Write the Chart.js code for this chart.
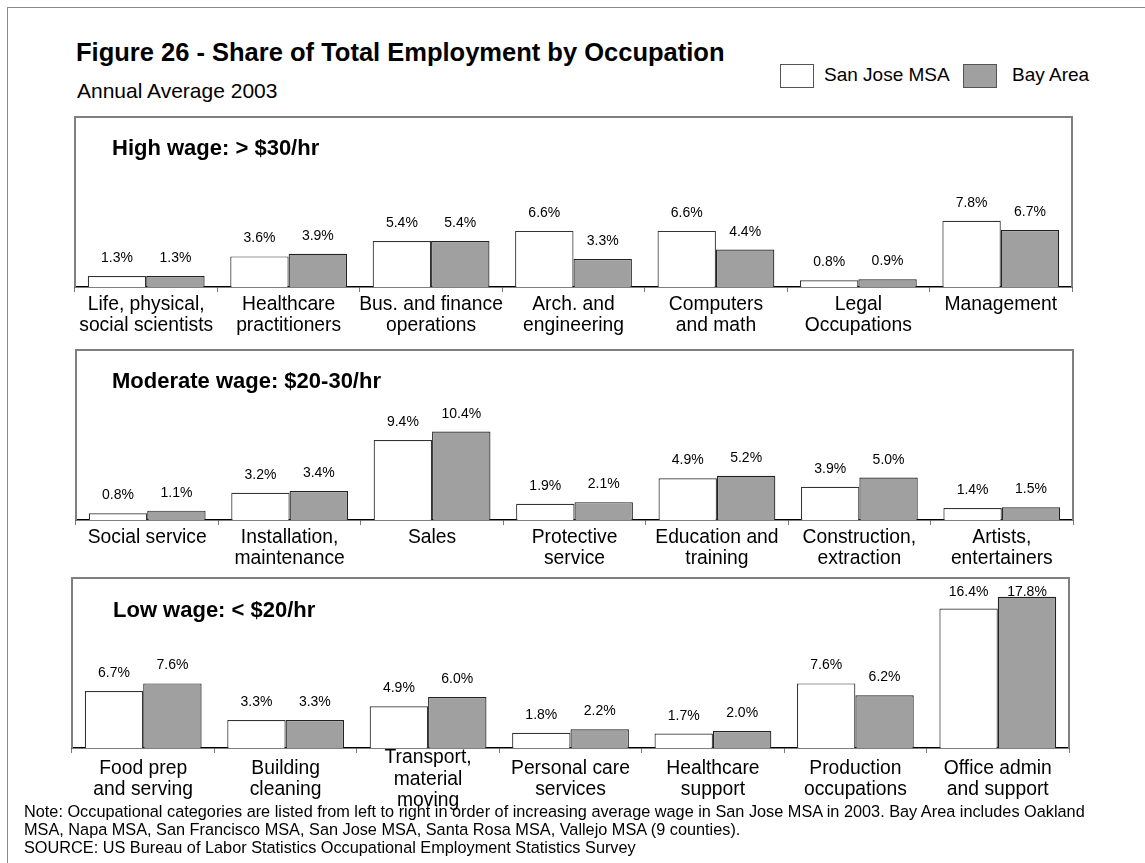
<!DOCTYPE html>
<html>
<head>
<meta charset="utf-8">
<script src="https://cdn.jsdelivr.net/npm/chart.js@4.4.1/dist/chart.umd.min.js"></script>
<style>
  html, body { margin: 0; padding: 0; background: #fff; }
  body { width: 1145px; height: 863px; position: relative; overflow: hidden; font-family: "Liberation Sans", Arial, sans-serif; color: #000; }
  .abs { position: absolute; white-space: nowrap; line-height: 1; }
  #frame { position: absolute; left: 7px; top: 7px; width: 1200px; height: 900px; border: 1px solid #8a8a8a; }
  #title { left: 76px; top: 40px; font-size: 25.5px; font-weight: bold; }
  #subtitle { left: 77px; top: 80px; font-size: 21px; }
  .lgbox { position: absolute; width: 34px; height: 24px; border: 1px solid #555; box-sizing: border-box; }
  .lgtxt { font-size: 19px; }
  .plabel { font-size: 22px; font-weight: bold; }
  #note { left: 24px; top: 802px; font-size: 16.3px; line-height: 18px; }
  canvas { position: absolute; }
</style>
</head>
<body>
<div id="frame"></div>
<div class="abs" id="title">Figure 26 - Share of Total Employment by Occupation</div>
<div class="abs" id="subtitle">Annual Average 2003</div>

<div class="lgbox" style="left:780px; top:64px; background:#fff;"></div>
<div class="abs lgtxt" style="left:824px; top:65px;">San Jose MSA</div>
<div class="lgbox" style="left:963px; top:64px; background:#a0a0a0;"></div>
<div class="abs lgtxt" style="left:1012px; top:65px;">Bay Area</div>

<canvas id="c1" width="1017" height="255" style="left:65px; top:112px;"></canvas>
<canvas id="c2" width="1017" height="255" style="left:66px; top:345px;"></canvas>
<canvas id="c3" width="1017" height="255" style="left:62px; top:573px;"></canvas>

<div class="abs plabel" style="left:112px; top:137px;">High wage: &gt; $30/hr</div>
<div class="abs plabel" style="left:112px; top:370px;">Moderate wage: $20-30/hr</div>
<div class="abs plabel" style="left:113px; top:599px;">Low wage: &lt; $20/hr</div>

<div class="abs" id="note">Note: Occupational categories are listed from left to right in order of increasing average wage in San Jose MSA in 2003. Bay Area includes Oakland<br>MSA, Napa MSA, San Francisco MSA, San Jose MSA, Santa Rosa MSA, Vallejo MSA (9 counties).<br>SOURCE: US Bureau of Labor Statistics Occupational Employment Statistics Survey</div>

<script>
// ---- Data ----
const seriesNames = ["San Jose MSA", "Bay Area"];

const highWageCategories = [["Life, physical,", "social scientists"], ["Healthcare", "practitioners"], ["Bus. and finance", "operations"], ["Arch. and", "engineering"], ["Computers", "and math"], ["Legal", "Occupations"], "Management"];
const highWageSanJose = [1.3, 3.6, 5.4, 6.6, 6.6, 0.8, 7.8];
const highWageBayArea = [1.3, 3.9, 5.4, 3.3, 4.4, 0.9, 6.7];

const moderateWageCategories = ["Social service", ["Installation,", "maintenance"], "Sales", ["Protective", "service"], ["Education and", "training"], ["Construction,", "extraction"], ["Artists,", "entertainers"]];
const moderateWageSanJose = [0.8, 3.2, 9.4, 1.9, 4.9, 3.9, 1.4];
const moderateWageBayArea = [1.1, 3.4, 10.4, 2.1, 5.2, 5.0, 1.5];

const lowWageCategories = [["Food prep", "and serving"], ["Building", "cleaning"], ["Transport,", "material", "moving"], ["Personal care", "services"], ["Healthcare", "support"], ["Production", "occupations"], ["Office admin", "and support"]];
const lowWageSanJose = [6.7, 3.3, 4.9, 1.8, 1.7, 7.6, 16.4];
const lowWageBayArea = [7.6, 3.3, 6.0, 2.2, 2.0, 6.2, 17.8];

const yAxisMax = 20;

// ---- Plugins ----
const valueLabels = {
  id: 'valueLabels',
  afterDatasetsDraw(chart) {
    const ctx = chart.ctx;
    const top = chart.chartArea.top;
    ctx.save();
    ctx.font = '14px "Liberation Sans", Arial, sans-serif';
    ctx.fillStyle = '#000';
    ctx.textAlign = 'center';
    ctx.textBaseline = 'alphabetic';
    chart.data.datasets.forEach((ds, i) => {
      const meta = chart.getDatasetMeta(i);
      meta.data.forEach((el, j) => {
        // keep labels inside the plot box, as the spreadsheet does
        const y = Math.max(el.y - 14, top + 18);
        ctx.fillText(ds.data[j].toFixed(1) + '%', el.x, y);
      });
    });
    ctx.restore();
  }
};

const panelBox = {
  id: 'panelBox',
  afterDraw(chart) {
    const a = chart.chartArea;
    const ctx = chart.ctx;
    ctx.save();
    ctx.strokeStyle = '#7f7f7f';
    ctx.lineWidth = 2;
    ctx.beginPath();
    ctx.moveTo(a.left, a.bottom);
    ctx.lineTo(a.left, a.top);
    ctx.lineTo(a.right, a.top);
    ctx.lineTo(a.right, a.bottom);
    ctx.stroke();
    ctx.restore();
  }
};

function makePanel(id, categories, sj, bay, threeLine) {
  new Chart(document.getElementById(id), {
    type: 'bar',
    data: {
      labels: categories,
      datasets: [
        { label: seriesNames[0], data: sj, backgroundColor: '#ffffff', borderColor: '#333333', borderWidth: 1.2, barPercentage: 1, categoryPercentage: 0.82 },
        { label: seriesNames[1], data: bay, backgroundColor: '#a0a0a0', borderColor: '#222222', borderWidth: 1.2, barPercentage: 1, categoryPercentage: 0.82 }
      ]
    },
    options: {
      responsive: false,
      animation: false,
      devicePixelRatio: 1,
      layout: { padding: { left: 10, right: 10, top: 5, bottom: 0 } },
      plugins: { legend: { display: false }, tooltip: { enabled: false }, title: { display: false } },
      scales: {
        x: {
          afterFit(scale) { scale.height = 80; },
          grid: { display: true, drawOnChartArea: false, drawTicks: true, tickLength: 5, color: '#777', offset: true },
          border: { display: true, color: '#000', width: 1.5 },
          ticks: {
            color: '#000',
            autoSkip: false,
            maxRotation: 0,
            minRotation: 0,
            padding: threeLine ? 5 : 2,
            crossAlign: threeLine ? 'center' : 'near',
            font: { family: '"Liberation Sans", Arial, sans-serif', size: 19.3, lineHeight: 1.1 }
          }
        },
        y: { display: false, min: 0, max: yAxisMax }
      }
    },
    plugins: [valueLabels, panelBox]
  });
}

makePanel('c1', highWageCategories, highWageSanJose, highWageBayArea, false);
makePanel('c2', moderateWageCategories, moderateWageSanJose, moderateWageBayArea, false);
makePanel('c3', lowWageCategories, lowWageSanJose, lowWageBayArea, true);
</script>
</body>
</html>
